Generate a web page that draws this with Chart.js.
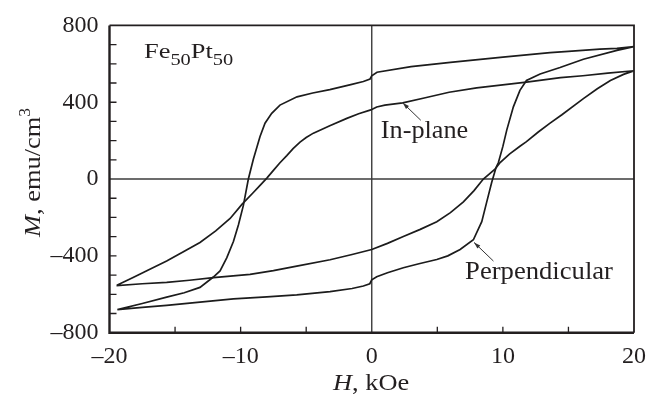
<!DOCTYPE html>
<html><head><meta charset="utf-8">
<script src="https://cdn.jsdelivr.net/npm/chart.js@4"></script>
<style>html,body{margin:0;padding:0;background:#fff;}#wrap{width:661px;height:396px;position:relative;}</style>
</head><body><div id="wrap"><canvas id="c" width="661" height="396"></canvas></div>
<script>
// ---- data (H in kOe, M in emu/cm^3) ----
const perpDescH = [20, 18.7, 17.4, 15.0, 13.6, 10.0, 6.0, 3.0, 0.4, 0.0, -0.13, -0.64, -1.6, -3.2, -4.5, -5.7, -7.0, -7.63, -8.14, -8.52, -9.03, -9.41, -9.79, -10.17, -10.55, -11.06, -11.57, -12.08, -13.1, -14.3, -15.64, -17.5, -19.4];
const perpDescM = [690, 680, 676, 665, 658, 635, 607, 585, 556, 538, 521, 508, 492, 466, 448, 428, 385, 342, 291, 222, 103, 0, -137, -239, -325, -410, -478, -510, -564, -592, -615, -648, -680];
const perpAscH = [-19.4, -17.5, -15.64, -13.1, -10.55, -8.0, -5.72, -3.18, -1.5, -0.64, -0.15, 0.0, 0.38, 1.2, 2.41, 3.6, 4.96, 5.8, 6.74, 7.75, 8.39, 8.77, 9.15, 9.48, 9.66, 10.0, 10.3, 10.8, 11.3, 11.8, 12.84, 13.6, 14.36, 16.14, 18.7, 20];
const perpAscM = [-680, -668, -658, -641, -624, -613, -603, -586, -570, -557, -545, -525, -509, -488, -462, -441, -419, -400, -367, -316, -222, -119, -17, 60, 86, 170, 256, 376, 462, 513, 547, 564, 581, 624, 670, 690];
const inDescH = [20, 18.0, 16.1, 14.4, 11.8, 8.0, 5.9, 4.0, 2.36, 1.0, 0.38, 0.0, -0.13, -1.0, -1.9, -3.2, -4.45, -5.0, -5.47, -6.0, -6.48, -7.0, -7.5, -8.0, -8.5, -9.03, -9.9, -10.8, -11.9, -13.1, -14.4, -15.64, -17.0, -18.2, -19.4];
const inDescM = [564, 552, 538, 528, 505, 475, 452, 422, 397, 385, 375, 362, 359, 340, 316, 278, 239, 216, 192, 158, 122, 85, 45, 5, -32, -70, -132, -205, -270, -330, -380, -427, -472, -513, -552];
const inAscH = [-19.4, -17.5, -15.64, -13.9, -12.08, -9.28, -7.5, -5.72, -3.18, -1.5, 0.0, 1.2, 2.41, 3.7, 4.96, 6.0, 6.99, 7.8, 8.51, 9.4, 9.79, 10.5, 11.3, 11.8, 12.7, 13.6, 14.5, 16.14, 17.2, 18.2, 19.2, 20];
const inAscM = [-555, -545, -538, -527, -513, -496, -477, -453, -420, -393, -367, -335, -299, -262, -222, -175, -119, -60, 0, 51, 86, 130, 171, 195, 245, 291, 335, 419, 470, 513, 545, 564];

const xTickValues = [-20, -10, 0, 10, 20];
const yTickValues = [-800, -400, 0, 400, 800];
const xMinorTicks = [-15, -10, -5, 5, 10, 15];
const yMinorTicks = [-700, -600, -500, -400, -300, -200, -100, 100, 200, 300, 400, 500, 600, 700];

const sampleName = ['Fe', '50', 'Pt', '50'];
const inPlaneLabel = 'In-plane';
const perpLabel = 'Perpendicular';
const xTitle = ['H', ', kOe'];
const yTitle = ['M', ', emu/cm', '3'];

// ---- helpers ----
const SERIF = '"Liberation Serif", "Times New Roman", serif';
const INK = '#231f20';
function pts(hs, ms) { return hs.map((h, i) => ({ x: h, y: ms[i] })); }
function fmt(v) { return v < 0 ? '\u2013' + Math.abs(v) : String(v); }

function drawRich(ctx, parts, x, y, sx, rot) {
  ctx.save();
  ctx.translate(x, y);
  if (rot) ctx.rotate(rot);
  ctx.scale(sx, 1);
  ctx.textBaseline = 'alphabetic';
  ctx.textAlign = 'left';
  ctx.fillStyle = INK;
  let cx = 0;
  for (const p of parts) {
    ctx.font = p.font;
    ctx.fillText(p.t, cx, p.dy || 0);
    cx += ctx.measureText(p.t).width;
  }
  ctx.restore();
}
function arrow(ctx, x1, y1, x2, y2) {
  ctx.save();
  ctx.strokeStyle = '#333'; ctx.fillStyle = '#333'; ctx.lineWidth = 1;
  ctx.beginPath(); ctx.moveTo(x1, y1); ctx.lineTo(x2, y2); ctx.stroke();
  const a = Math.atan2(y2 - y1, x2 - x1), L = 7, w = 0.3;
  ctx.beginPath();
  ctx.moveTo(x2, y2);
  ctx.lineTo(x2 - L * Math.cos(a - w), y2 - L * Math.sin(a - w));
  ctx.lineTo(x2 - L * Math.cos(a + w), y2 - L * Math.sin(a + w));
  ctx.closePath(); ctx.fill();
  ctx.restore();
}

const deco = {
  id: 'deco',
  beforeDatasetsDraw(chart) {
    const { ctx, chartArea: a, scales: { x, y } } = chart;
    const x0 = x.getPixelForValue(0), y0 = y.getPixelForValue(0);
    ctx.save();
    ctx.strokeStyle = '#3c3c3c'; ctx.lineWidth = 1.4;
    ctx.beginPath();
    ctx.moveTo(x0, a.top); ctx.lineTo(x0, a.bottom);
    ctx.moveTo(a.left, y0); ctx.lineTo(a.right, y0);
    ctx.stroke();
    ctx.restore();
  },
  afterDatasetsDraw(chart) {
    const { ctx, chartArea: a, scales: { x, y } } = chart;
    ctx.save();
    // frame
    ctx.strokeStyle = INK;
    ctx.lineWidth = 1.8;
    ctx.beginPath();
    ctx.moveTo(a.left, a.top); ctx.lineTo(a.right, a.top); ctx.lineTo(a.right, a.bottom);
    ctx.stroke();
    ctx.lineWidth = 2.4;
    ctx.beginPath();
    ctx.moveTo(a.left, a.top); ctx.lineTo(a.left, a.bottom); ctx.lineTo(a.right, a.bottom);
    ctx.stroke();
    // inward ticks
    ctx.lineWidth = 1.3;
    ctx.beginPath();
    for (const v of yMinorTicks) { const py = y.getPixelForValue(v); ctx.moveTo(a.left, py); ctx.lineTo(a.left + 7, py); }
    for (const v of xMinorTicks) { const px = x.getPixelForValue(v); ctx.moveTo(px, a.bottom); ctx.lineTo(px, a.bottom - 6); }
    ctx.stroke();
    ctx.restore();

    // sample name
    drawRich(ctx, [
      { t: sampleName[0], font: `22px ${SERIF}` },
      { t: sampleName[1], font: `17px ${SERIF}`, dy: 7 },
      { t: sampleName[2], font: `22px ${SERIF}` },
      { t: sampleName[3], font: `17px ${SERIF}`, dy: 7 }
    ], x.getPixelForValue(-17.37), y.getPixelForValue(628), 1.2);

    // curve labels and arrows
    drawRich(ctx, [{ t: inPlaneLabel, font: `25px ${SERIF}` }], x.getPixelForValue(0.69), y.getPixelForValue(214), 1.05);
    arrow(ctx, x.getPixelForValue(3.74), y.getPixelForValue(306), x.getPixelForValue(2.36), y.getPixelForValue(397));
    drawRich(ctx, [{ t: perpLabel, font: `25px ${SERIF}` }], x.getPixelForValue(7.12), y.getPixelForValue(-518), 1.065);
    arrow(ctx, x.getPixelForValue(9.28), y.getPixelForValue(-427), x.getPixelForValue(7.80), y.getPixelForValue(-330));

    // axis titles
    drawRich(ctx, [
      { t: xTitle[0], font: `italic 24px ${SERIF}` },
      { t: xTitle[1], font: `24px ${SERIF}` }
    ], 333, 390, 1.1);
    drawRich(ctx, [
      { t: yTitle[0], font: `italic 24px ${SERIF}` },
      { t: yTitle[1], font: `24px ${SERIF}` },
      { t: yTitle[2], font: `16px ${SERIF}`, dy: -10 }
    ], 40, 237, 1.1, -Math.PI / 2);
  }
};

new Chart(document.getElementById('c'), {
  type: 'scatter',
  data: {
    datasets: [
      { label: 'In-plane', data: pts(inDescH, inDescM).concat(pts(inAscH, inAscM)), showLine: true, borderColor: '#1c1c1c', borderWidth: 1.7, pointRadius: 0, tension: 0 },
      { label: 'Perpendicular', data: pts(perpDescH, perpDescM).concat(pts(perpAscH, perpAscM)), showLine: true, borderColor: '#1c1c1c', borderWidth: 1.7, pointRadius: 0, tension: 0 }
    ]
  },
  options: {
    responsive: false,
    animation: false,
    devicePixelRatio: 1,
    layout: { padding: { top: 20.7, right: 27, left: 0, bottom: 0 } },
    plugins: { legend: { display: false }, tooltip: { enabled: false } },
    scales: {
      x: {
        type: 'linear', min: -20, max: 20,
        afterBuildTicks: s => { s.ticks = xTickValues.map(v => ({ value: v })); },
        afterFit: s => { s.height = 63.3; },
        grid: { display: false, drawTicks: false },
        border: { display: false },
        ticks: { color: INK, font: { family: SERIF, size: 24 }, padding: 10, maxRotation: 0, callback: v => fmt(v) }
      },
      y: {
        type: 'linear', min: -800, max: 800,
        afterBuildTicks: s => { s.ticks = yTickValues.map(v => ({ value: v })); },
        afterFit: s => { s.width = 109.5; },
        grid: { display: false, drawTicks: false },
        border: { display: false },
        ticks: { color: INK, font: { family: SERIF, size: 24 }, padding: 11, callback: v => fmt(v) }
      }
    }
  },
  plugins: [deco]
});
</script>
</body></html>
